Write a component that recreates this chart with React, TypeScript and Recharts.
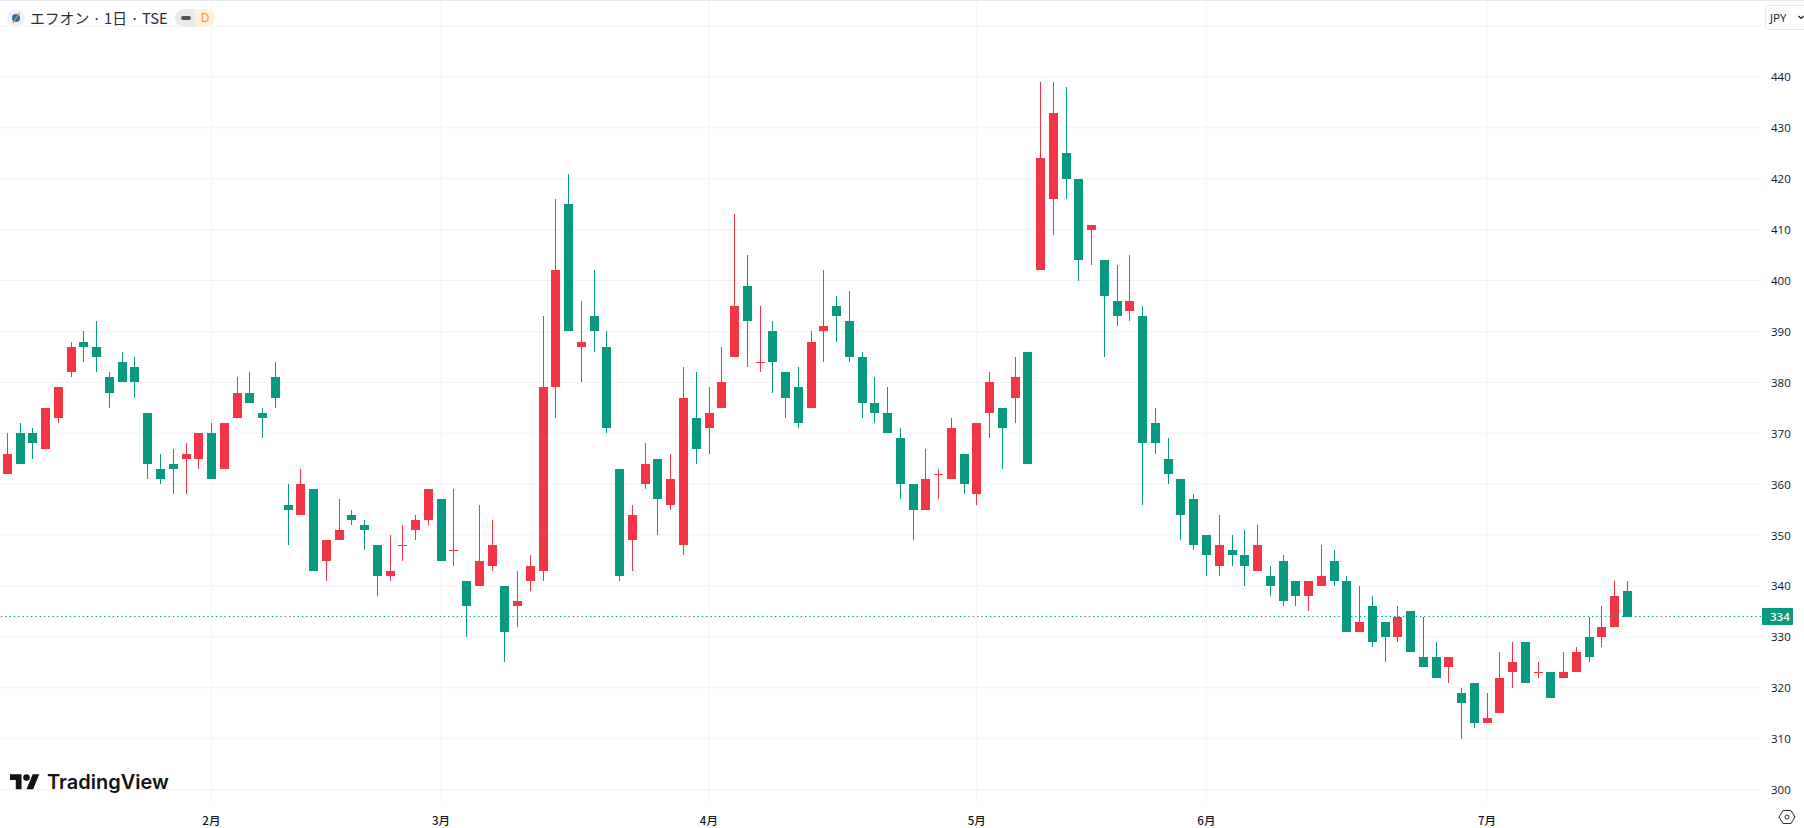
import React from "react";
import { ComposedChart, Bar, XAxis, YAxis, CartesianGrid, ReferenceLine } from "recharts";

const opens = [
  362, 370, 370, 367, 373, 382, 388, 387, 381, 384, 383, 374, 363, 364, 365, 365, 370, 363, 373, 378, 374, 381,
  356, 354, 359, 345, 349, 354, 352, 348, 342, 348, 351, 353, 357, 347, 341, 340, 344, 340, 336, 341, 343, 379,
  415, 387, 393, 387, 363, 349, 360, 365, 356, 348, 373, 371, 375, 385, 399, 384, 390, 382, 379, 375, 390, 395,
  392, 385, 376, 374, 369, 360, 355, 362, 361, 366, 358, 374, 375, 377, 386, 402, 416, 425, 420, 410, 404, 396,
  394, 393, 372, 365, 361, 357, 350, 344, 347, 346, 343, 342, 345, 341, 338, 340, 345, 341, 331, 336, 333, 330,
  335, 326, 326, 324, 319, 321, 313, 315, 323, 329, 323, 323, 322, 323, 330, 330, 332, 339,
];
const closes = [
  366, 364, 368, 375, 379, 387, 387, 385, 378, 380, 380, 364, 361, 363, 366, 370, 361, 372, 378, 376, 373, 377,
  355, 360, 343, 349, 351, 353, 351, 342, 343, 348, 353, 359, 345, 347, 336, 345, 348, 331, 337, 344, 379, 402,
  390, 388, 390, 371, 342, 354, 364, 357, 361, 377, 367, 374, 380, 395, 392, 384, 384, 377, 372, 388, 391, 393,
  385, 376, 374, 370, 360, 355, 361, 362, 371, 360, 372, 380, 371, 381, 364, 424, 433, 420, 404, 411, 397, 393,
  396, 368, 368, 362, 354, 348, 346, 348, 346, 344, 348, 340, 337, 338, 341, 342, 341, 331, 333, 329, 330, 334,
  327, 324, 322, 326, 317, 313, 314, 322, 325, 321, 323, 318, 323, 327, 326, 332, 338, 334,
];
const highs = [
  370, 372, 371, 375, 379, 388, 390, 392, 382, 386, 385, 374, 366, 367, 368, 370, 372, 372, 381, 382, 375, 384,
  360, 363, 359, 349, 357, 355, 353, 348, 350, 352, 354, 359, 357, 359, 341, 356, 353, 340, 343, 346, 393, 416,
  421, 396, 402, 390, 363, 356, 368, 365, 366, 383, 382, 379, 387, 413, 405, 395, 392, 382, 383, 390, 402, 397,
  398, 386, 381, 379, 371, 360, 367, 363, 373, 366, 372, 382, 375, 385, 386, 439, 439, 438, 420, 411, 404, 403,
  405, 395, 375, 369, 361, 358, 350, 354, 350, 351, 352, 344, 346, 341, 341, 348, 347, 342, 340, 338, 333, 336,
  335, 334, 329, 326, 320, 321, 319, 327, 329, 329, 325, 323, 327, 328, 334, 336, 341, 341,
];
const lows = [
  362, 364, 365, 367, 372, 381, 384, 382, 375, 380, 377, 361, 360, 358, 358, 363, 361, 363, 373, 376, 369, 375,
  348, 354, 343, 341, 349, 352, 347, 338, 341, 345, 349, 352, 345, 344, 330, 340, 343, 325, 332, 339, 341, 373,
  390, 380, 386, 370, 341, 343, 359, 350, 355, 346, 364, 366, 375, 385, 383, 382, 378, 373, 371, 375, 384, 388,
  384, 373, 372, 370, 357, 349, 355, 357, 361, 358, 356, 369, 363, 372, 364, 402, 409, 416, 400, 403, 385, 391,
  392, 356, 366, 360, 349, 347, 342, 342, 344, 340, 343, 338, 336, 336, 335, 340, 340, 331, 331, 328, 325, 329,
  327, 324, 322, 321, 310, 312, 313, 315, 320, 321, 322, 318, 322, 323, 325, 328, 332, 334,
];

const monthTickIndexes = [16, 34, 55, 76, 94, 116];
const monthLabels = ["2月", "3月", "4月", "5月", "6月", "7月"];
const priceTicks = [300, 310, 320, 330, 340, 350, 360, 370, 380, 390, 400, 410, 420, 430, 440];
const gridPrices = [...priceTicks, 450];
const lastPrice = 334;
const title = "エフオン · 1日 · TSE";

const UP = "#F23645";
const DOWN = "#089981";
const GRID = "#f2f3f4";

const rows = opens.map((open, i) => ({
  idx: i,
  open,
  close: closes[i],
  high: highs[i],
  low: lows[i],
  range: [lows[i], highs[i]],
}));

function Candle(props: any) {
  const { x, y, width, height, payload } = props;
  const { open, close, high, low } = payload;
  const color = close >= open ? UP : DOWN;
  const unit = height / (high - low);
  const cx = Math.floor(x + width / 2) + 0.5;
  const wickTop = Math.round(y);
  const wickBottom = Math.round(y + height);
  const bodyTop = Math.round(y + (high - Math.max(open, close)) * unit);
  const bodyBottom = Math.round(y + (high - Math.min(open, close)) * unit);
  return (
    <g>
      <rect x={cx - 0.5} y={wickTop} width={1} height={wickBottom - wickTop} fill={color} />
      <rect x={cx - 4.5} y={bodyTop} width={9} height={Math.max(bodyBottom - bodyTop, 1)} fill={color} />
    </g>
  );
}

function PriceTick(props: any) {
  const { x, y, payload } = props;
  return (
    <text x={x} y={y + 4.5} fill="#131722" fontSize={11.5} fontFamily="'Open Sans', sans-serif" textAnchor="start">
      {payload.value}
    </text>
  );
}

function MonthTick(props: any) {
  const { x, y, payload } = props;
  const label = monthLabels[monthTickIndexes.indexOf(payload.value)];
  return (
    <text x={x} y={y + 14} fill="#131722" fontSize={11.5} fontWeight={500} fontFamily="'Noto Sans CJK JP', sans-serif" textAnchor="middle">
      {label}
    </text>
  );
}

function LastPriceLabel(props: any) {
  const { viewBox } = props;
  const left = viewBox.x + viewBox.width;
  const cy = viewBox.y;
  return (
    <g>
      <rect x={left + 1} y={cy - 8.5} width={31} height={17} rx={1} fill={DOWN} />
      <text x={left + 9} y={cy + 4.5} fill="#fff" fontSize={11.5} fontWeight={600} fontFamily="'Open Sans', sans-serif">
        {lastPrice}
      </text>
    </g>
  );
}

export default function App() {
  return (
    <div style={{ position: "absolute", left: 0, top: 0, width: 1804, height: 828, overflow: "hidden", background: "#fff" }}>
      <ComposedChart width={1804} height={828} data={rows} margin={{ top: 0, right: 0, bottom: 0, left: 0 }}>
        <CartesianGrid stroke={GRID} strokeWidth={1} horizontalValues={gridPrices} verticalValues={monthTickIndexes} />
        <XAxis
          dataKey="idx"
          type="number"
          domain={[-0.572, 137.48]}
          allowDataOverflow
          ticks={monthTickIndexes}
          tick={<MonthTick />}
          tickLine={false}
          axisLine={false}
          height={25}
          interval={0}
        />
        <YAxis
          orientation="right"
          type="number"
          domain={[297.36, 455.12]}
          allowDataOverflow
          ticks={priceTicks}
          tick={<PriceTick />}
          tickLine={false}
          axisLine={false}
          width={43}
          tickMargin={4}
          interval={0}
        />
        <ReferenceLine
          y={lastPrice}
          stroke={DOWN}
          strokeWidth={1.2}
          strokeDasharray="1.4 2.9"
          label={<LastPriceLabel />}
        />
        <Bar dataKey="range" barSize={9} isAnimationActive={false} shape={<Candle />} />
      </ComposedChart>

      <div style={{ position: "absolute", left: 0, top: 0, width: 1804, height: 1, background: "#e6e8ec" }} />

      <svg style={{ position: "absolute", left: 7, top: 9 }} width={18} height={18} viewBox="0 0 18 18">
        <circle cx={9} cy={9} r={9} fill="#eef2f8" />
        <circle cx={9} cy={9} r={4} fill="#1f6fb5" />
        <path d="M12.5 3.5 L6 14" stroke="#f08a24" strokeWidth={1.3} />
      </svg>
      <div
        style={{
          position: "absolute",
          left: 30,
          top: 8,
          height: 20,
          lineHeight: "20px",
          fontSize: 14.8,
          color: "#2a2e39",
          whiteSpace: "nowrap",
          fontFamily: "'Noto Sans CJK JP', sans-serif",
        }}
      >
        {title}
      </div>
      <div style={{ position: "absolute", left: 175, top: 9, width: 20, height: 18, background: "#ebebeb", borderRadius: "9px 0 0 9px" }}>
        <div style={{ position: "absolute", left: 6, top: 7, width: 10, height: 4, borderRadius: 2, background: "#555" }} />
      </div>
      <div
        style={{
          position: "absolute",
          left: 195,
          top: 9,
          width: 20,
          height: 18,
          lineHeight: "18px",
          background: "#fff0d9",
          borderRadius: "0 9px 9px 0",
          color: "#ff9800",
          fontSize: 12,
          textAlign: "center",
          fontFamily: "'Open Sans', sans-serif",
        }}
      >
        D
      </div>

      <div
        style={{
          position: "absolute",
          left: 1765,
          top: 5,
          width: 60,
          height: 25,
          boxSizing: "border-box",
          border: "1px solid #e6e8ec",
          borderRadius: 4,
          background: "#fff",
          fontSize: 11.5,
          lineHeight: "23px",
          paddingLeft: 4,
          color: "#131722",
          fontFamily: "'Open Sans', sans-serif",
        }}
      >
        JPY
      </div>
      <svg style={{ position: "absolute", left: 1798, top: 15 }} width={6} height={5} viewBox="0 0 6 5">
        <path d="M0.5 1 L3 3.5 L5.5 1" stroke="#131722" strokeWidth={1.2} fill="none" />
      </svg>

      <svg style={{ position: "absolute", left: 10, top: 770.7 }} width={29.7} height={23.1} viewBox="0 0 36 28">
        <path d="M14 22H7V11H0V4h14v18zM28 22h-8l7.5-18h8L28 22z" fill="#131313" />
        <circle cx={20} cy={8} r={4} fill="#131313" />
      </svg>
      <div
        style={{
          position: "absolute",
          left: 47,
          top: 770,
          height: 24,
          lineHeight: "24px",
          fontSize: 20,
          fontWeight: 600,
          color: "#131313",
          whiteSpace: "nowrap",
          fontFamily: "Inter, sans-serif",
        }}
      >
        TradingView
      </div>

      <svg style={{ position: "absolute", left: 1778, top: 808 }} width={18} height={18} viewBox="0 0 18 18">
        <path d="M5 2.5 H13 L17 9 L13 15.5 H5 L1 9 Z" fill="none" stroke="#2a2e39" strokeWidth={1} />
        <circle cx={9} cy={9} r={2} fill="none" stroke="#2a2e39" strokeWidth={1} />
      </svg>
    </div>
  );
}
